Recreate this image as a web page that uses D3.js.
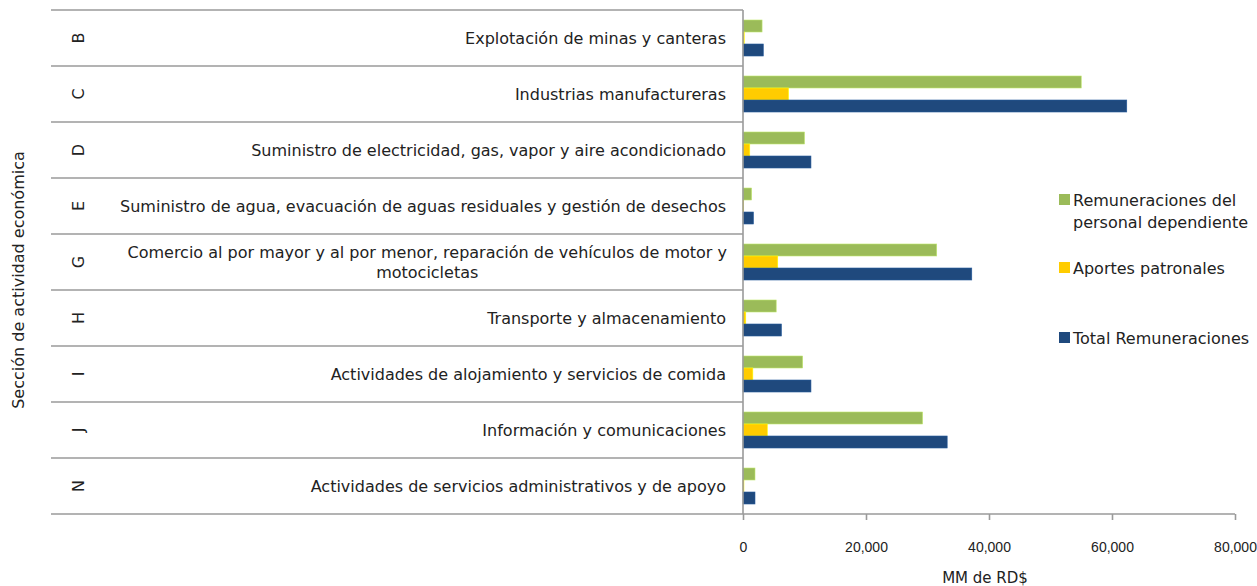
<!DOCTYPE html>
<html><head><meta charset="utf-8">
<script src="https://cdn.jsdelivr.net/npm/d3@7"></script>
<style>body{margin:0;background:#fff}svg{display:block}text{font-family:"DejaVu Sans",Arial,sans-serif;fill:#222}</style>
</head><body>
<svg id="c" width="1257" height="586"></svg>
<script>
const codes = ["B","C","D","E","G","H","I","J","N"];
const categories = [
  "Explotación de minas y canteras",
  "Industrias manufactureras",
  "Suministro de electricidad, gas, vapor y aire acondicionado",
  "Suministro de agua, evacuación de aguas residuales y gestión de desechos",
  "Comercio al por mayor y al por menor, reparación de vehículos de motor y|motocicletas",
  "Transporte y almacenamiento",
  "Actividades de alojamiento y servicios de comida",
  "Información y comunicaciones",
  "Actividades de servicios administrativos y de apoyo"
];
const seriesNames = ["Remuneraciones del personal dependiente","Aportes patronales","Total Remuneraciones"];
const remuneraciones = [3100, 55000, 10000, 1400, 31500, 5400, 9700, 29200, 1950];
const aportes        = [200, 7400, 1100, 100, 5650, 450, 1600, 3950, 150];
const total          = [3300, 62400, 11050, 1700, 37200, 6250, 11050, 33200, 1950];
const xTicks = [0, 20000, 40000, 60000, 80000];
const colors = ["#9BBB59","#FFCC00","#1F497D"];

const svg = d3.select("#c");
const x0 = 743, x1 = 1235, yTop = 10, yBot = 514;
const x = d3.scaleLinear().domain([0, 80000]).range([x0, x1]);
const y = d3.scaleBand().domain(codes).range([yTop, yBot]).padding(0);
const ys = d3.scaleBand().domain([0,1,2]).range([0, y.bandwidth()]).paddingInner(0).paddingOuter(0.833);
const data = [remuneraciones, aportes, total];

const gridColor = "#9a9a9a";
const bounds = codes.map(c => y(c));
svg.append("g").selectAll("line").data(bounds).join("line")
  .attr("x1", 51).attr("x2", x0).attr("y1", d => d).attr("y2", d => d)
  .attr("stroke", gridColor).attr("stroke-width", 1.6);

codes.forEach((c, i) => {
  data.forEach((arr, s) => {
    svg.append("rect")
      .attr("x", x(0)).attr("y", y(c) + ys(s))
      .attr("width", Math.max(0, x(arr[i]) - x(0))).attr("height", ys.bandwidth())
      .attr("fill", colors[s]).attr("stroke", d3.color(colors[s]).brighter(0.6)).attr("stroke-width", 0.6);
  });
});

const xa = svg.append("g").attr("transform", `translate(0,${yBot})`)
  .call(d3.axisBottom(x).tickValues(xTicks).tickSize(6).tickPadding(22).tickFormat(d3.format(",")));
xa.select(".domain").remove();
xa.selectAll(".tick line").attr("stroke", gridColor).attr("stroke-width", 1.6);
xa.selectAll(".tick text").attr("font-size", 14).attr("fill", "#222").style("font-family", '"Liberation Sans",Arial,sans-serif');
svg.append("line").attr("x1", 51).attr("x2", x1).attr("y1", yBot).attr("y2", yBot).attr("stroke", gridColor).attr("stroke-width", 1.6);
svg.append("line").attr("x1", x0).attr("x2", x0).attr("y1", yTop).attr("y2", yBot).attr("stroke", gridColor).attr("stroke-width", 1.6);

codes.forEach((c, i) => {
  const cy = y(c) + y.bandwidth()/2;
  const lines = categories[i].split("|");
  if (lines.length === 1) {
    svg.append("text").attr("font-size", 16).attr("text-anchor", "end")
      .attr("x", 726).attr("y", cy + 6).text(lines[0]);
  } else {
    const t = svg.append("text").attr("font-size", 16).attr("text-anchor", "middle");
    const spans = lines.map((l, k) => t.append("tspan").attr("y", cy - 4 + k * 20).text(l));
    const w = d3.max(spans, s => s.node().getComputedTextLength());
    spans.forEach(s => s.attr("x", 727 - w / 2));
  }
  svg.append("text").attr("font-size", 16)
    .attr("transform", `translate(84,${cy}) rotate(-90)`).attr("text-anchor", "middle").text(c);
});

svg.append("text").attr("font-size", 16).attr("text-anchor", "middle")
  .attr("transform", "translate(24,280) rotate(-90)").text("Sección de actividad económica");
svg.append("text").attr("font-size", 15).attr("text-anchor", "middle")
  .attr("x", 985).attr("y", 583).text("MM de RD$");

const leg = [
  {lines:["Remuneraciones del","personal dependiente"], y:200},
  {lines:["Aportes patronales"], y:268},
  {lines:["Total Remuneraciones"], y:338}
];
leg.forEach((l, i) => {
  svg.append("rect").attr("x", 1059).attr("y", l.y - 6).attr("width", 11).attr("height", 11).attr("fill", colors[i]);
  const t = svg.append("text").attr("font-size", 16);
  l.lines.forEach((s, k) => t.append("tspan").attr("x", 1073).attr("y", l.y + 6 + k * 22).text(s));
});
</script>
</body></html>
